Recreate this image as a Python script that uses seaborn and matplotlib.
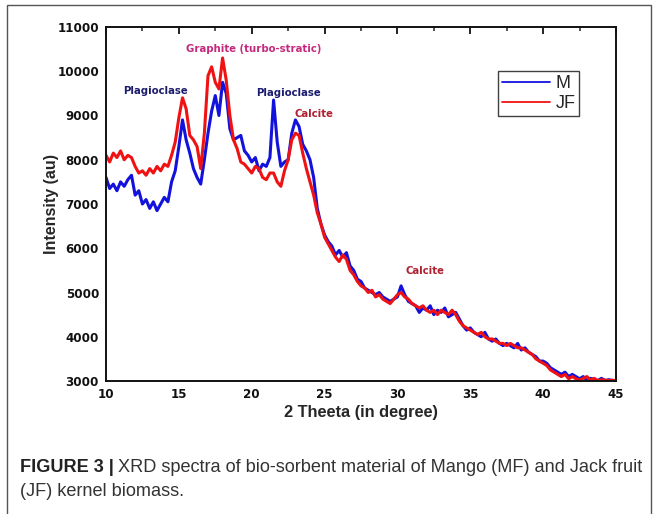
import numpy as np
import pandas as pd
import matplotlib
matplotlib.use("Agg")
import matplotlib.pyplot as plt
from matplotlib.patches import Rectangle
from matplotlib.lines import Line2D
import seaborn as sns

# ---- data ----
two_theta = np.arange(10.0, 45.001, 0.25)

intensity_M = [
    7600, 7350, 7450, 7300, 7500, 7400, 7550, 7650, 7200, 7300,
    7000, 7100, 6900, 7050, 6850, 7000, 7150, 7050, 7500, 7750,
    8300, 8900, 8450, 8150, 7800, 7600, 7450, 8000, 8600, 9100,
    9450, 9000, 9750, 9500, 8700, 8450, 8500, 8550, 8200, 8100,
    7950, 8050, 7750, 7900, 7850, 8050, 9350, 8400, 7850, 7950,
    8000, 8600, 8900, 8750, 8350, 8200, 8000, 7600, 6900, 6550,
    6300, 6150, 6050, 5850, 5950, 5800, 5900, 5600, 5500, 5300,
    5250, 5100, 5050, 5000, 4950, 5000, 4900, 4850, 4800, 4850,
    4900, 5150, 4950, 4800, 4750, 4700, 4550, 4650, 4600, 4700,
    4500, 4600, 4550, 4650, 4450, 4500, 4550, 4400, 4250, 4150,
    4200, 4100, 4050, 4000, 4100, 3950, 3900, 3950, 3850, 3800,
    3850, 3800, 3750, 3850, 3700, 3750, 3650, 3600, 3550, 3450,
    3450, 3400, 3300, 3250, 3200, 3150, 3200, 3100, 3150, 3100,
    3050, 3100, 3020, 3060, 3030, 3010, 3060, 3010, 3030, 3010,
    3000,
]

intensity_JF = [
    8100, 7950, 8150, 8050, 8200, 8000, 8100, 8050, 7850, 7700,
    7750, 7650, 7800, 7700, 7850, 7750, 7900, 7850, 8100, 8400,
    8950, 9400, 9150, 8550, 8450, 8300, 7800, 8600, 9900, 10100,
    9750, 9600, 10300, 9800, 9000, 8450, 8250, 7950, 7900, 7800,
    7700, 7850, 7800, 7600, 7550, 7700, 7700, 7500, 7400, 7750,
    8000, 8450, 8600, 8550, 8150, 7800, 7500, 7200, 6800, 6550,
    6250, 6100, 5950, 5800, 5700, 5850, 5750, 5500, 5400, 5250,
    5150, 5100, 5000, 5050, 4900, 4950, 4850, 4800, 4750, 4850,
    4950, 5000, 4900, 4850, 4750, 4700, 4650, 4700, 4600, 4550,
    4600, 4500, 4600, 4550, 4500, 4600, 4500, 4350, 4250, 4200,
    4150, 4100, 4050, 4100, 4000, 3950, 3950, 3900, 3850, 3850,
    3800, 3850, 3800, 3750, 3750, 3700, 3650, 3600, 3500, 3450,
    3400, 3350, 3250, 3200, 3150, 3100, 3150, 3050, 3100, 3050,
    3020, 3060, 3100, 3020, 3060, 3010, 3030, 3020, 3010, 3020,
    3005,
]

series_names = ["M", "JF"]
series_colors = ["#1212dc", "#f01212"]

annotations = [
    ("Plagioclase", 13.4, 9560, "#1c1c6e"),
    ("Graphite (turbo-stratic)", 20.15, 10500, "#c42a7e"),
    ("Plagioclase", 22.55, 9500, "#1c1c6e"),
    ("Calcite", 24.25, 9030, "#b02030"),
    ("Calcite", 31.9, 5490, "#b02030"),
]

x_ticks = [10, 15, 20, 25, 30, 35, 40, 45]
y_ticks = [3000, 4000, 5000, 6000, 7000, 8000, 9000, 10000, 11000]

# ---- build table ----
df = pd.concat([
    pd.DataFrame({"2theta": two_theta, "Intensity": intensity_M, "Sample": "M"}),
    pd.DataFrame({"2theta": two_theta, "Intensity": intensity_JF, "Sample": "JF"}),
], ignore_index=True)

sns.set_theme(style="white")
plt.rcParams["font.family"] = ["DejaVu Sans"]

fig = plt.figure(figsize=(6.57, 5.14), dpi=100)
ax = fig.add_axes([106 / 657, 1 - 381 / 514, (616 - 106) / 657, (381 - 27) / 514])

sns.lineplot(data=df, x="2theta", y="Intensity", hue="Sample",
             palette=dict(zip(series_names, series_colors)),
             hue_order=series_names, linewidth=2.2,
             ax=ax, legend=False, estimator=None, sort=False)

ax.set_xlim(10, 45)
ax.set_ylim(3000, 11000)
ax.set_xticks(x_ticks)
ax.set_yticks(y_ticks)
ax.set_xticks(np.arange(12.5, 45, 5), minor=True)
ax.set_yticks(np.arange(3500, 11000, 1000), minor=True)
ax.tick_params(axis="both", which="major", direction="in", length=5, width=1.3,
               labelsize=8.6, colors="#111111", top=True, right=False, pad=5)
ax.tick_params(axis="both", which="minor", direction="in", length=3, width=1.1,
               top=True, right=False)
for lab in ax.get_xticklabels() + ax.get_yticklabels():
    lab.set_fontweight("bold")
for s in ax.spines.values():
    s.set_linewidth(1.4)
    s.set_color("#111111")

ax.set_xlabel("2 Theeta (in degree)", fontsize=11.8, fontweight="bold", labelpad=3,
              family=["Liberation Sans"])
ax.set_ylabel("Intensity (au)", fontsize=11.5, fontweight="bold", labelpad=-1,
              family=["Liberation Sans"])

for txt, xv, yv, col in annotations:
    ax.text(xv, yv, txt, color=col, fontsize=7.3, fontweight="bold",
            ha="center", va="center")

# legend
handles = [Line2D([], [], color=c, lw=1.3) for c in series_colors]
leg = ax.legend(handles, series_names, loc="upper right",
                bbox_to_anchor=(0.928, 0.875), frameon=True,
                fancybox=False, edgecolor="#111111", handlelength=2.7,
                handletextpad=0.3, borderpad=0.2, labelspacing=0.2,
                borderaxespad=0, prop={"family": "Liberation Sans", "size": 13})
leg.get_frame().set_linewidth(1.0)

# outer frame
fig.patches.append(Rectangle((7 / 657, -0.05), (651 - 7) / 657, 1.05 - 5 / 514,
                             transform=fig.transFigure, fill=False,
                             edgecolor="#555555", lw=1.0, clip_on=False))

# caption
fig.canvas.draw()
r = fig.canvas.get_renderer()
cap_font = ["Liberation Sans"]
cap_size = 13.1
t1 = fig.text(20 / 657, 1 - 467 / 514, "FIGURE 3 |", fontsize=cap_size, fontweight="bold",
              color="#222222", va="center", ha="left", family=cap_font)
bb = t1.get_window_extent(r)
fig.text((bb.x1 + 4) / 657, 1 - 467 / 514,
         "XRD spectra of bio-sorbent material of Mango (MF) and Jack fruit",
         fontsize=cap_size, color="#333333", va="center", ha="left", family=cap_font)
fig.text(20 / 657, 1 - 491 / 514, "(JF) kernel biomass.", fontsize=cap_size,
         color="#333333", va="center", ha="left", family=cap_font)

fig.savefig("out.png", dpi=100)
